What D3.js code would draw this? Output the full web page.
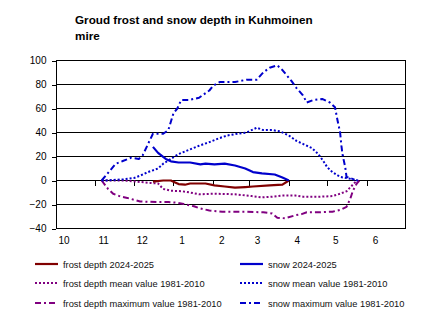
<!DOCTYPE html>
<html><head><meta charset="utf-8">
<script src="https://cdn.jsdelivr.net/npm/d3@7"></script>
<style>
html,body{margin:0;padding:0;background:#fff;}
svg{display:block;font-family:"Liberation Sans",Arial,sans-serif;}
</style></head>
<body><svg id="c" width="430" height="328"></svg>
<script>
// ---- data ----
const titleLines = ["Groud frost and snow depth in Kuhmoinen", "mire"];
const monthTicks = ["2024-10-01","2024-11-01","2024-12-01","2025-01-01","2025-02-01","2025-03-01","2025-04-01","2025-05-01","2025-06-01"];
const yTicks = [-40,-20,0,20,40,60,80,100];

const snowMaxDates = ["2024-11-06","2024-11-17","2024-11-22","2024-11-29","2024-12-05","2024-12-08","2024-12-16","2024-12-24","2024-12-28","2025-01-01","2025-01-04","2025-01-07","2025-01-13","2025-01-21","2025-01-29","2025-02-01","2025-02-06","2025-02-18","2025-02-27","2025-03-07","2025-03-12","2025-03-17","2025-03-23","2025-03-27","2025-04-03","2025-04-07","2025-04-12","2025-04-15","2025-04-20","2025-04-27","2025-05-03","2025-05-07","2025-05-09","2025-05-11","2025-05-12","2025-05-13","2025-05-15","2025-05-16","2025-05-19","2025-05-24"];
const snowMaxValues = [0,14,16,19,18,21,39,39,42,56,60,67,67,69,75,79,82,82,84,84,90,94,96,92,83,77,71,65,67,68,65,61,50,40,29,21,11,3,2,0];

const snowMeanDates = ["2024-11-06","2024-11-09","2024-11-23","2024-12-01","2024-12-06","2024-12-12","2024-12-20","2024-12-24","2024-12-30","2025-01-05","2025-01-14","2025-01-21","2025-01-29","2025-02-05","2025-02-12","2025-02-20","2025-02-27","2025-03-07","2025-03-12","2025-03-19","2025-03-25","2025-04-01","2025-04-07","2025-04-12","2025-04-19","2025-04-24","2025-04-28","2025-05-01","2025-05-05","2025-05-11","2025-05-16","2025-05-21","2025-05-25"];
const snowMeanValues = [0,0,1,2,4,7,10,14,18,22,26,29,32,35,37.5,39,40,44,42,42,41,37.5,33,30.5,27,22,16,11,7,3,2,1,0];

const snowDates = ["2024-12-16","2024-12-20","2024-12-26","2024-12-30","2025-01-05","2025-01-14","2025-01-22","2025-01-26","2025-02-02","2025-02-10","2025-02-18","2025-02-26","2025-03-04","2025-03-11","2025-03-21","2025-03-27","2025-04-01"];
const snowValues = [28,23,18,16,15,15,13.5,14,13.5,14,12.5,10,7,6,5,2.5,0];

const frostDates = ["2024-12-16","2024-12-24","2024-12-30","2025-01-01","2025-01-05","2025-01-10","2025-01-14","2025-01-21","2025-01-26","2025-02-02","2025-02-10","2025-02-18","2025-02-26","2025-03-04","2025-03-17","2025-03-27","2025-04-01"];
const frostValues = [-1,0,0,-1,-3,-3.5,-2.5,-2.5,-2.5,-4,-5,-6,-5.5,-5,-4,-3.5,0];

const frostMeanDates = ["2024-11-06","2024-11-23","2024-12-04","2024-12-14","2024-12-20","2024-12-24","2024-12-30","2025-01-08","2025-01-14","2025-01-21","2025-02-02","2025-02-18","2025-03-03","2025-03-11","2025-03-19","2025-03-27","2025-04-06","2025-04-12","2025-04-25","2025-05-05","2025-05-11","2025-05-16","2025-05-24"];
const frostMeanValues = [0,0,-1,-2,-2.5,-7,-8.5,-9,-10,-11.5,-11,-11.5,-13,-14,-13.5,-12.5,-12.5,-13.5,-13.5,-13,-11,-9,0];

const frostMaxDates = ["2024-11-06","2024-11-11","2024-11-15","2024-11-21","2024-11-26","2024-12-01","2024-12-06","2024-12-20","2024-12-28","2025-01-04","2025-01-09","2025-01-17","2025-01-21","2025-01-29","2025-02-08","2025-02-26","2025-03-12","2025-03-19","2025-03-23","2025-03-29","2025-04-06","2025-04-11","2025-04-15","2025-04-25","2025-05-05","2025-05-11","2025-05-16","2025-05-19","2025-05-21","2025-05-24","2025-05-26"];
const frostMaxValues = [0,-7,-11,-13.5,-14.5,-16,-17.5,-18,-18,-18.5,-19.5,-21.5,-23,-25,-26,-26,-26.5,-27.5,-31,-31.5,-29,-28,-26.5,-26.5,-26,-24.5,-22,-15,-8.5,-2.5,0];

const seriesNames = ["frost depth 2024-2025","snow 2024-2025","frost depth mean value 1981-2010","snow mean value 1981-2010","frost depth maximum value 1981-2010","snow maximum value 1981-2010"];

// ---- styles ----
const BLUE = "#0000cc", RED = "#800000", PURPLE = "#800080";
const DOT = "2,2", DASHDOT = "6,3,2,3";
const series = [
  {name: seriesNames[0], dates: frostDates, values: frostValues, color: RED, dash: null, w: 2.2},
  {name: seriesNames[1], dates: snowDates, values: snowValues, color: BLUE, dash: null, w: 2.2},
  {name: seriesNames[2], dates: frostMeanDates, values: frostMeanValues, color: PURPLE, dash: DOT, w: 2},
  {name: seriesNames[3], dates: snowMeanDates, values: snowMeanValues, color: BLUE, dash: DOT, w: 2},
  {name: seriesNames[4], dates: frostMaxDates, values: frostMaxValues, color: PURPLE, dash: DASHDOT, w: 2},
  {name: seriesNames[5], dates: snowMaxDates, values: snowMaxValues, color: BLUE, dash: DASHDOT, w: 2}
];

const parse = d3.timeParse("%Y-%m-%d");
const svg = d3.select("#c");
const L = 55, R = 405, T = 60, B = 228;
const x = d3.scaleTime().domain([parse("2024-10-01"), parse("2025-07-01")]).range([L, R]);
const y = d3.scaleLinear().domain([-40, 100]).range([B, T]);

// title
const title = svg.append("text").attr("x", 75).attr("font-size", "11.7px").attr("font-weight", "bold").attr("fill", "#000");
titleLines.forEach((t, i) => title.append("tspan").attr("x", 75).attr("y", 24 + i * 16).text(t));

const g = svg.append("g").attr("transform", "translate(0.5,0.5)");

// gridlines
g.append("g").selectAll("line").data(yTicks).join("line")
  .attr("x1", L).attr("x2", R).attr("y1", d => y(d)).attr("y2", d => y(d))
  .attr("stroke", "#000").attr("stroke-width", 1).attr("shape-rendering", "crispEdges");
// right border
g.append("line").attr("x1", R).attr("x2", R).attr("y1", T).attr("y2", B).attr("stroke", "#000").attr("shape-rendering", "crispEdges");

// y axis
const ya = g.append("g").attr("transform", `translate(${L},0)`)
  .call(d3.axisLeft(y).tickValues(yTicks).tickSize(4).tickPadding(5).tickSizeOuter(0));
ya.select(".domain").attr("stroke", "#000").attr("shape-rendering", "crispEdges");
ya.selectAll(".tick line").attr("stroke", "#000").attr("shape-rendering", "crispEdges");
ya.selectAll("text").attr("font-size", "10px").attr("fill", "#000").attr("font-family", "Liberation Sans, Arial, sans-serif");

// x ticks on zero line
const monthDates = monthTicks.map(parse);
const xt = g.append("g").attr("transform", `translate(0,${y(0)})`)
  .call(d3.axisBottom(x).tickValues(monthDates.slice(1)).tickSize(5).tickFormat(""));
xt.select(".domain").remove();
xt.selectAll(".tick line").attr("stroke", "#000").attr("shape-rendering", "crispEdges");

// x labels at bottom
const xl = g.append("g").attr("transform", `translate(0,${B})`)
  .call(d3.axisBottom(x).tickValues(monthDates).tickSize(0).tickFormat(d3.timeFormat("%-m")));
xl.select(".domain").remove();
xl.selectAll("text").attr("dx", 8).attr("y", 15).attr("dy", 0).attr("font-size", "10px").attr("fill", "#000").attr("font-family", "Liberation Sans, Arial, sans-serif");

// lines
const line = d3.line().x(d => x(d[0])).y(d => y(d[1]));
const drawOrder = [4, 2, 5, 3, 0, 1];
drawOrder.forEach(i => {
  const s = series[i];
  const pts = s.dates.map((d, k) => [parse(d), s.values[k]]);
  g.append("path").datum(pts).attr("d", line).attr("fill", "none")
    .attr("stroke", s.color).attr("stroke-width", s.w)
    .attr("stroke-dasharray", s.dash).attr("stroke-linejoin", "round");
});

// legend
const legendPos = [[35, 264], [240, 264], [35, 283], [240, 283], [35, 303], [240, 303]];
series.forEach((s, i) => {
  const [lx, ly] = legendPos[i];
  const lg = svg.append("g").attr("transform", `translate(${lx},${ly})`);
  lg.append("line").attr("x1", 0).attr("x2", 23).attr("y1", 0).attr("y2", 0)
    .attr("stroke", s.color).attr("stroke-width", s.w).attr("stroke-dasharray", s.dash);
  lg.append("text").attr("x", 28).attr("y", 3.5).attr("font-size", "9.3px").attr("fill", "#111").text(s.name);
});
</script></body></html>
